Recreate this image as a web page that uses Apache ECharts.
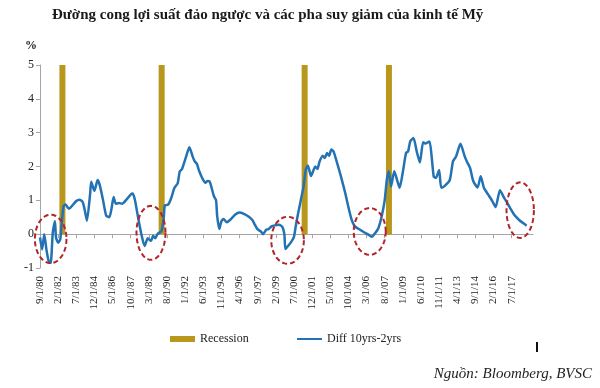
<!DOCTYPE html>
<html><head><meta charset="utf-8">
<script src="https://cdn.jsdelivr.net/npm/echarts@6/dist/echarts.min.js"></script>
<style>html,body{margin:0;padding:0;background:#fff}#c{width:600px;height:388px}</style>
</head><body><div id="c"></div>
<script>
const tickLabels = ['9/1/80','2/1/82','7/1/83','12/1/84','5/1/86','10/1/87','3/1/89','8/1/90','1/1/92','6/1/93','11/1/94','4/1/96','9/1/97','2/1/99','7/1/00','12/1/01','5/1/03','10/1/04','3/1/06','8/1/07','1/1/09','6/1/10','11/1/11','4/1/13','9/1/14','2/1/16','7/1/17'];

const dates = ['1980-09','1980-11','1981-01','1981-03','1981-05','1981-07','1981-09','1981-11','1981-12','1982-02','1982-04','1982-05','1982-07','1982-09','1982-12','1983-02','1983-07','1983-10','1984-01','1984-03','1984-05','1984-08','1984-09','1984-12','1985-03','1985-05','1985-08','1985-11','1986-02','1986-04','1986-06','1986-08','1986-11','1987-02','1987-06','1987-10','1987-12','1988-02','1988-05','1988-08','1988-11','1989-02','1989-05','1989-07','1989-09','1989-11','1990-01','1990-03','1990-05','1990-06','1990-09','1990-12','1991-03','1991-06','1991-08','1991-10','1992-01','1992-04','1992-05','1992-08','1992-10','1992-12','1993-02','1993-05','1993-08','1993-10','1993-12','1994-02','1994-04','1994-06','1994-07','1994-09','1994-11','1995-01','1995-04','1995-07','1995-12','1996-04','1996-08','1996-12','1997-04','1997-06','1997-09','1997-12','1998-02','1998-05','1998-07','1998-10','1999-01','1999-05','1999-08','1999-10','1999-11','2000-02','2000-05','2000-07','2000-09','2000-11','2001-02','2001-04','2001-06','2001-08','2001-11','2002-03','2002-05','2002-07','2002-10','2002-12','2003-02','2003-04','2003-06','2003-08','2003-11','2004-03','2004-07','2004-10','2005-01','2005-04','2005-09','2006-01','2006-04','2006-08','2006-11','2007-02','2007-05','2007-08','2007-10','2007-12','2008-02','2008-05','2008-08','2008-10','2009-01','2009-04','2009-06','2009-08','2009-11','2010-02','2010-05','2010-08','2010-10','2011-02','2011-04','2011-06','2011-08','2011-11','2012-01','2012-04','2012-09','2012-12','2013-03','2013-07','2013-11','2014-01','2014-04','2014-07','2014-11','2015-02','2015-05','2015-09','2016-01','2016-04','2016-08','2016-12','2017-03','2017-06','2017-10','2018-02','2018-06','2018-09'];

const spread = [-0.1,-0.45,0.0,-0.45,-0.78,-0.85,0.05,0.38,-0.1,-0.25,-0.15,0.2,0.82,0.88,0.75,0.8,0.98,1.02,0.95,0.7,0.4,1.2,1.55,1.28,1.6,1.45,1.02,0.55,0.5,0.75,1.1,0.9,0.92,0.9,1.02,1.17,1.2,1.0,0.48,0.0,-0.35,-0.12,-0.2,-0.05,-0.12,0.0,0.05,0.1,0.5,0.85,0.87,1.07,1.37,1.5,1.86,1.92,2.2,2.5,2.57,2.3,2.15,2.08,1.88,1.66,1.52,1.57,1.55,1.35,1.12,1.0,0.55,0.15,0.38,0.45,0.35,0.42,0.58,0.64,0.6,0.53,0.42,0.3,0.14,0.08,0.0,0.13,0.15,0.23,0.26,0.28,0.22,0.0,-0.44,-0.33,-0.2,-0.08,0.3,0.63,1.1,1.41,1.9,2.03,1.72,2.0,1.93,2.15,2.32,2.25,2.4,2.32,2.5,2.45,2.15,1.71,1.22,0.8,0.43,0.23,0.13,0.05,0.0,-0.08,0.03,0.17,0.5,1.0,1.6,1.86,1.41,1.86,1.56,1.37,1.83,2.4,2.45,2.75,2.84,2.45,2.12,2.72,2.68,2.74,2.3,1.7,1.66,1.9,1.37,1.42,1.6,2.15,2.3,2.67,2.3,2.15,1.96,1.57,1.38,1.71,1.37,1.17,0.97,0.8,1.3,1.07,0.92,0.75,0.55,0.42,0.32,0.25];

const recessionDates = ['1982-06','1990-03','2001-05','2007-12'];
const recessionValues = [5,5,5,5];

// highlighted inversion zones (annotation centres in data units)
const highlightDates = ['1981-07','1989-05','2000-01','2006-06','2018-03'];
const highlightValues = [-0.14,0.04,-0.18,0.08,0.71];

const SERIF = "'Liberation Serif','Times New Roman',serif";
function mi(d){ const p = d.split('-').map(Number); return (p[0]-1980)*12 + p[1] - 9; }
const tickPos = tickLabels.map((_, i) => i * 17);

const chart = echarts.init(document.getElementById('c'), null, {renderer:'canvas'});
const legendText = {fontFamily: SERIF, fontSize: 12, color: '#222'};
const option = {
  animation: false,
  backgroundColor: '#fff',
  title: {
    text: 'Đường cong lợi suất đảo ngược và các pha suy giảm của kinh tế Mỹ',
    left: 47, top: 3,
    textStyle: {fontFamily: SERIF, fontWeight: 'bold', fontSize: 15, color: '#1a1a1a'}
  },
  legend: [{
    left: 165, top: 328, itemWidth: 25, itemHeight: 6,
    textStyle: legendText,
    data: [{name: 'Recession', icon: 'rect'}]
  }, {
    left: 292, top: 328, itemWidth: 25, itemHeight: 2,
    textStyle: legendText,
    data: [{name: 'Diff 10yrs-2yrs', icon: 'rect'}]
  }],
  grid: {left: 40, top: 65, width: 493, height: 203, containLabel: false},
  xAxis: [{
    type: 'value', min: 0, max: 462, position: 'bottom',
    axisLine: {show: true, onZero: true, lineStyle: {color: '#a6a6a6', width: 1}},
    axisTick: {show: true, customValues: tickPos, length: 4, lineStyle: {color: '#a6a6a6'}},
    axisLabel: {show: false},
    splitLine: {show: false}
  }, {
    type: 'value', min: 0, max: 462, position: 'bottom',
    axisLine: {show: false, onZero: false},
    axisTick: {show: false},
    splitLine: {show: false},
    axisLabel: {
      show: true, rotate: 90, margin: 8, customValues: tickPos,
      fontFamily: SERIF, fontSize: 11, color: '#222',
      formatter: v => { const i = Math.round(v / 17); return tickLabels[i] || ''; }
    }
  }],
  yAxis: {
    type: 'value', min: -1, max: 5, interval: 1,
    axisLine: {show: true, onZero: false, lineStyle: {color: '#a6a6a6'}},
    axisTick: {show: true, length: 4, lineStyle: {color: '#a6a6a6'}},
    axisLabel: {fontFamily: SERIF, fontSize: 12, color: '#222', margin: 6},
    splitLine: {show: false}
  },
  series: [{
    name: 'Recession', type: 'bar', xAxisIndex: 0, yAxisIndex: 0,
    barWidth: 6,
    itemStyle: {color: '#B9971C'},
    data: recessionDates.map((d, i) => [mi(d), recessionValues[i]])
  }, {
    name: 'Diff 10yrs-2yrs', type: 'line', xAxisIndex: 0, yAxisIndex: 0,
    symbol: 'none', smooth: 0.2,
    lineStyle: {color: '#2272B4', width: 2.5},
    itemStyle: {color: '#2272B4'},
    data: dates.map((d, i) => [mi(d), spread[i]])
  }]
};
chart.setOption(option);

const rx = [15.8, 14.5, 16.3, 16, 13.7];
const ry = [24.2, 27, 23.5, 23.4, 27.8];
const ellipses = highlightDates.map((d, i) => {
  const c = chart.convertToPixel({seriesIndex: 1}, [mi(d), highlightValues[i]]);
  const pts = [];
  for (let k = 0; k < 72; k++) {
    const a = k / 72 * Math.PI * 2;
    pts.push([c[0] + rx[i] * Math.cos(a), c[1] + ry[i] * Math.sin(a)]);
  }
  return {type: 'polygon', silent: true, z: 100, shape: {points: pts},
    style: {fill: 'none', stroke: '#B0252B', lineWidth: 2, lineDash: [5, 3]}};
});
chart.setOption({graphic: [
  {type: 'text', left: 25, top: 40, style: {text: '%', font: 'bold 12px ' + SERIF, fill: '#222'}},
  {type: 'rect', left: 536, top: 342, shape: {width: 2, height: 10}, style: {fill: '#111'}},
  {type: 'text', right: 8, top: 367, style: {text: 'Nguồn: Bloomberg, BVSC', font: 'italic 15px ' + SERIF, fill: '#222'}}
].concat(ellipses)});
</script>
</body></html>
